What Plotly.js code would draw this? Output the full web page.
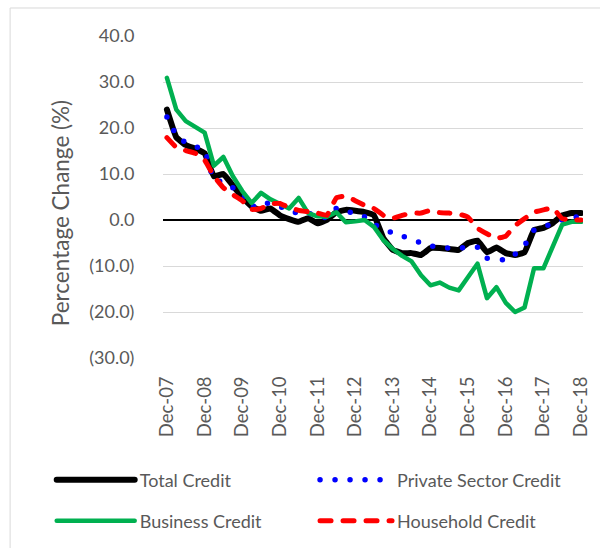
<!DOCTYPE html>
<html>
<head>
<meta charset="utf-8">
<script src="https://cdn.plot.ly/plotly-3.0.1.min.js"></script>
<style>
html,body{margin:0;padding:0;background:#fff;}
#chart{width:600px;height:548px;}
#chart .js-line{stroke-linecap:round;stroke-linejoin:round;}
</style>
</head>
<body>
<div id="chart"></div>
<script>
// Quarterly observations, Dec-07 .. Dec-18
var dates = ['2007-12-01','2008-03-01','2008-06-01','2008-09-01','2008-12-01',
  '2009-03-01','2009-06-01','2009-09-01','2009-12-01',
  '2010-03-01','2010-06-01','2010-09-01','2010-12-01',
  '2011-03-01','2011-06-01','2011-09-01','2011-12-01',
  '2012-03-01','2012-06-01','2012-09-01','2012-12-01',
  '2013-03-01','2013-06-01','2013-09-01','2013-12-01',
  '2014-03-01','2014-06-01','2014-09-01','2014-12-01',
  '2015-03-01','2015-06-01','2015-09-01','2015-12-01',
  '2016-03-01','2016-06-01','2016-09-01','2016-12-01',
  '2017-03-01','2017-06-01','2017-09-01','2017-12-01',
  '2018-03-01','2018-06-01','2018-09-01','2018-12-01'];

var totalCredit = [24, 18, 16.3, 15.5, 14.5, 9.5, 10, 7.5, 5.0, 3.0, 2.0, 2.5, 1.0, 0.2, -0.4, 0.4, -0.7, 0, 1.7, 2.2, 2.0, 1.7, 1.0, -4, -6.5, -7.2, -7.2, -7.6, -6.1, -6.1, -6.3, -6.5, -5, -4.5, -7, -6, -7.2, -7.6, -7, -2.2, -1.7, -0.7, 1.0, 1.5, 1.5];
var privateSectorCredit = [22.4, 18.5, 16.8, 16, 15.2, 8.7, 8.3, 7, 5.9, 2.8, 3.9, 3.5, 3.0, 1.7, 1.6, 1.5, 0.8, 0.5, 2.5, 1.8, 1.5, 0.7, -0.9, -2.0, -2.8, -3.5, -4.2, -5.0, -5.6, -6.1, -6.1, -6.1, -5.9, -5.9, -8.3, -8.5, -8.7, -7.4, -5.5, -2.2, -1.5, -0.8, 0, 0.5, 0.8];
var businessCredit = [30.9, 24, 21.5, 20.3, 19, 11.8, 13.7, 9.5, 6.3, 3.7, 5.9, 4.5, 3.5, 2.5, 4.8, 1.5, 0.8, 0.7, 1.7, -0.5, -0.3, 0, -1.5, -4.4, -6.3, -7.8, -9, -12, -14.2, -13.6, -14.7, -15.3, -12.4, -9.5, -17, -14.6, -18, -20, -19, -10.5, -10.5, -6, -1, -0.4, -0.4];
var householdCredit = [17.9, 15.8, 15.1, 14.5, 13, 9.5, 7, 5.5, 4.2, 2.3, 2.5, 3.5, 3.6, 2.7, 2.1, 1.8, 1.5, 1.0, 4.8, 5.2, 4.2, 3.2, 2.5, 1.0, 0.4, 1.0, 1.5, 1.5, 2.1, 1.6, 1.5, 1.3, 0.6, -1.8, -3, -4, -3.5, -1.2, 0.3, 1.7, 2.2, 2.6, 0.3, 0, 0];

var seriesNames = ['Total Credit', 'Private Sector Credit', 'Business Credit', 'Household Credit'];

var tickDates = ['2007-12-01','2008-12-01','2009-12-01','2010-12-01','2011-12-01','2012-12-01','2013-12-01','2014-12-01','2015-12-01','2016-12-01','2017-12-01','2018-12-01'];
var tickLabels = ['Dec-07','Dec-08','Dec-09','Dec-10','Dec-11','Dec-12','Dec-13','Dec-14','Dec-15','Dec-16','Dec-17','Dec-18'];
var yTickVals = [40, 30, 20, 10, 0, -10, -20, -30];
var yTickLabels = ['40.0', '30.0', '20.0', '10.0', '0.0', '(10.0)', '(20.0)', '(30.0)'];
var yTitle = 'Percentage Change (%)';

var FONT = 'Lato, "Liberation Sans", sans-serif';
var GREY = '#595959';

var traces = [
  {x: dates, y: totalCredit, name: seriesNames[0], type: 'scatter', mode: 'lines',
   line: {color: '#000000', width: 6, shape: 'spline', smoothing: 0.3}, legend: 'legend'},
  {x: dates, y: privateSectorCredit, name: seriesNames[1], type: 'scatter', mode: 'lines',
   line: {color: '#0000ff', width: 5.5, dash: '0px,15px', shape: 'spline', smoothing: 0.3}, legend: 'legend2'},
  {x: dates, y: businessCredit, name: seriesNames[2], type: 'scatter', mode: 'lines',
   line: {color: '#00b050', width: 4.5}, legend: 'legend3'},
  {x: dates, y: householdCredit, name: seriesNames[3], type: 'scatter', mode: 'lines',
   line: {color: '#ff0000', width: 5, dash: '11px,12px', shape: 'spline', smoothing: 0.3}, legend: 'legend4'}
];

function legendAt(x, y, w) {
  return {
    orientation: 'h', xanchor: 'left', yanchor: 'middle', x: x, y: y, itemwidth: w,
    font: {family: FONT, size: 18, color: GREY}, bgcolor: 'rgba(0,0,0,0)'
  };
}

var layout = {
  width: 600, height: 548,
  margin: {l: 163, r: 17, t: 36, b: 190, autoexpand: false},
  paper_bgcolor: '#ffffff', plot_bgcolor: '#ffffff',
  font: {family: FONT, color: GREY},
  showlegend: true,
  xaxis: {
    type: 'date', range: ['2007-10-24', '2018-12-20'],
    tickmode: 'array', tickvals: tickDates, ticktext: tickLabels,
    tickangle: -90, tickfont: {family: FONT, size: 18.5, color: GREY},
    showgrid: false, zeroline: false, showline: false,
    ticks: 'outside', ticklen: 10, tickcolor: 'rgba(0,0,0,0)'
  },
  yaxis: {
    range: [-30, 40], tickmode: 'array', tickvals: yTickVals, ticktext: yTickLabels,
    tickfont: {family: FONT, size: 18, color: GREY},
    showgrid: true, gridcolor: '#d9d9d9', gridwidth: 1,
    zeroline: true, zerolinecolor: '#000000', zerolinewidth: 2,
    showline: false, ticks: 'outside', ticklen: 24, tickcolor: 'rgba(0,0,0,0)'
  },
  annotations: [
    {text: yTitle, xref: 'paper', yref: 'paper', x: -0.245, y: 0.45,
     xanchor: 'center', yanchor: 'middle', textangle: -90, showarrow: false,
     font: {family: FONT, size: 22.5, color: GREY}}
  ],
  legend: legendAt(-0.265, -0.379, 78),
  legend2: legendAt(0.362, -0.379, 72),
  legend3: legendAt(-0.265, -0.506, 78),
  legend4: legendAt(0.362, -0.506, 72),
  shapes: [
    {type: 'rect', xref: 'paper', yref: 'paper', x0: -0.364, x1: 1.2, y0: -0.7, y1: 1.087,
     line: {color: '#d9d9d9', width: 1}, fillcolor: 'rgba(0,0,0,0)', layer: 'below'}
  ]
};

Plotly.newPlot('chart', traces, layout, {staticPlot: true, displayModeBar: false});
</script>
</body>
</html>
